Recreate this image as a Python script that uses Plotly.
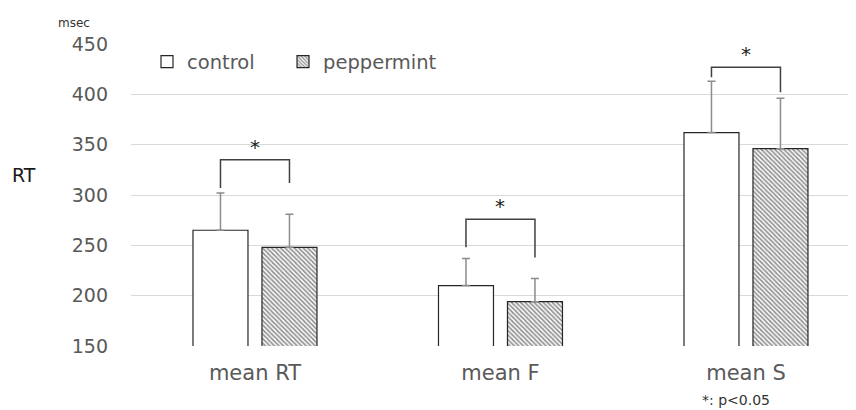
import plotly.graph_objects as go

categories = ["mean RT", "mean F", "mean S"]
control = [265, 210, 362]
control_err = [37, 27, 51]
peppermint = [248, 194, 346]
peppermint_err = [33, 23, 50]
# significance brackets: bar height (y), left leg bottom, right leg bottom
bracket_top = [335, 276, 427]
bracket_left_bottom = [307, 248, 417]
bracket_right_bottom = [312, 238, 402]

FONT = "DejaVu Sans"
W, H = 856, 410
OFF = 8  # page body margin
L, R, T, B = 131 - OFF, OFF, 44 - OFF, 410 - 346 + OFF
PW, PH = W - L - R, H - T - B
xpos = list(range(len(categories)))
bw = 0.224
gap = 0.057


def px(x):
    return (x - OFF - L) / PW


def py(y):
    return 1 - (y - OFF - T) / PH


fig = go.Figure()
fig.add_trace(go.Bar(
    x=xpos, y=control, name="control", width=bw, offset=-bw - gap / 2, legend="legend",
    marker=dict(color="white", line=dict(color="#262626", width=1.2)),
    error_y=dict(type="data", array=control_err, arrayminus=[0] * 3, symmetric=False,
                 color="#8c8c8c", thickness=1.5, width=4),
))
fig.add_trace(go.Bar(
    x=xpos, y=peppermint, name="peppermint", width=bw, offset=gap / 2, legend="legend2",
    marker=dict(color="white", line=dict(color="#262626", width=1.2),
                pattern=dict(shape="\\", size=3.2, solidity=0.55, fgcolor="#2a2a2a", bgcolor="white")),
    error_y=dict(type="data", array=peppermint_err, arrayminus=[0] * 3, symmetric=False,
                 color="#8c8c8c", thickness=1.5, width=4),
))

for i in range(len(categories)):
    xl = i - bw / 2 - gap / 2
    xr = i + bw / 2 + gap / 2
    fig.add_shape(type="path",
                  path=f"M {xl} {bracket_left_bottom[i]} L {xl} {bracket_top[i]} L {xr} {bracket_top[i]} L {xr} {bracket_right_bottom[i]}",
                  line=dict(color="#404040", width=1.5), xref="x", yref="y")
    fig.add_annotation(x=i, y=bracket_top[i], text="*", showarrow=False, yanchor="bottom",
                       yshift=-1, font=dict(size=20, color="#222222", family=FONT))

fig.add_annotation(x=px(74), y=py(23), xref="paper", yref="paper", text="msec", showarrow=False,
                   xanchor="center", yanchor="middle", font=dict(size=12, color="#333333", family=FONT))
fig.add_annotation(x=px(24), y=py(175), xref="paper", yref="paper", text="RT", showarrow=False,
                   xanchor="center", yanchor="middle", font=dict(size=19, color="#1a1a1a", family=FONT))
fig.add_annotation(x=px(736), y=py(400), xref="paper", yref="paper", text="*: p<0.05", showarrow=False,
                   xanchor="center", yanchor="middle", font=dict(size=14, color="#333333", family=FONT))

span = PW / 245.5
leg_common = dict(orientation="h", xanchor="left", yanchor="middle",
                  font=dict(size=19.5, color="#595959"), bgcolor="rgba(0,0,0,0)")
fig.update_layout(
    width=W, height=H, margin=dict(l=L, r=R, t=T, b=B, autoexpand=False),
    paper_bgcolor="white", plot_bgcolor="white",
    font=dict(family=FONT, color="#595959"),
    barmode="overlay",
    showlegend=True,
    legend=dict(x=px(147), y=py(62), **leg_common),
    legend2=dict(x=px(283), y=py(62), **leg_common),
    xaxis=dict(range=[-0.505, -0.505 + span], tickvals=xpos, ticktext=categories,
               showgrid=False, zeroline=False, showline=False, ticks="", ticklabelstandoff=12,
               tickfont=dict(size=21, color="#595959")),
    yaxis=dict(range=[150, 450], dtick=50, showgrid=True, gridcolor="#d9d9d9", gridwidth=1,
               zeroline=False, showline=False, ticks="", ticklabelstandoff=22,
               tickfont=dict(size=19, color="#595959")),
)
fig.write_html("out.html")
